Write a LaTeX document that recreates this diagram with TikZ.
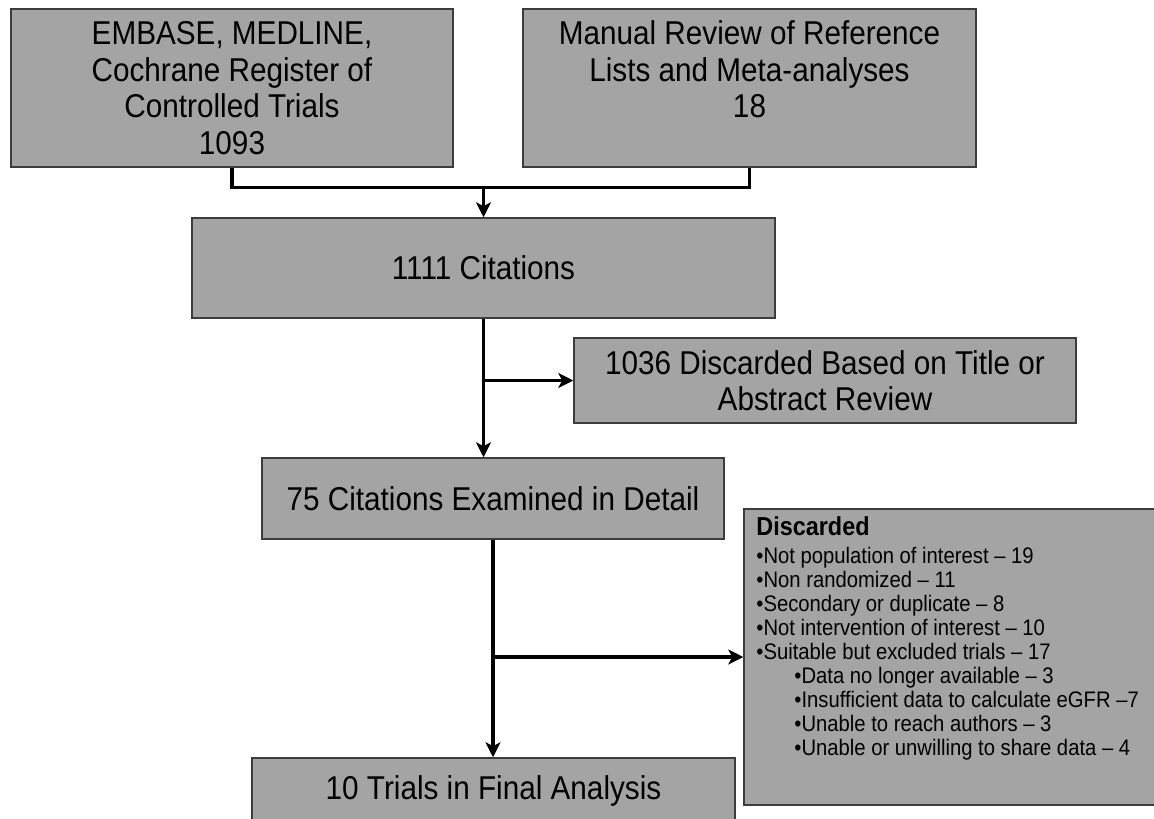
\documentclass[tikz,border=0pt]{standalone}
\usepackage{fontspec}
\setmainfont{Liberation Sans}[FakeStretch=0.9]
\usetikzlibrary{arrows.meta}
\definecolor{boxgray}{RGB}{164,164,164}
\definecolor{edgegray}{RGB}{60,60,60}

\begin{document}
\begin{tikzpicture}[x=1pt,y=-1pt,>={Stealth[length=15pt,width=15pt,inset=4pt]},
    box/.style={draw=edgegray,line width=1.5pt,fill=boxgray,inner sep=0pt,
        align=center,font=\fontsize{33}{36.5}\selectfont},
    flow/.style={line width=3.2pt}]
    \useasboundingbox (0,0) rectangle (1154,819);

    % sources
    \node[box,minimum width=442,minimum height=158] (src1) at (232,88)
        {EMBASE, MEDLINE,\\Cochrane Register of\\Controlled Trials\\1093};
    \node[box,minimum width=453,minimum height=158] (src2) at (749.5,88)
        {Manual Review of Reference\\Lists and Meta-analyses\\18\\[-10pt]\strut};

    % screening
    \node[box,minimum width=583,minimum height=100] (cit) at (483.5,268) {1111 Citations};
    \node[box,minimum width=502,minimum height=85] (disc1) at (825,380.5)
        {1036 Discarded Based on Title or\\Abstract Review};
    \node[box,minimum width=462,minimum height=81] (exam) at (493,498.5)
        {75 Citations Examined in Detail};
    \node[box,minimum width=420,minimum height=296] (disc2) at (954,657) {};
    \node[anchor=north west,align=left,inner sep=0pt,font=\fontsize{22.5}{24}\selectfont]
        (disc2txt) at ([xshift=13pt,yshift=-8pt]disc2.north west)
        {{\fontsize{26}{28}\selectfont\bfseries Discarded}\\[4pt]
        •Not population of interest – 19\\
        •Non randomized – 11\\
        •Secondary or duplicate – 8\\
        •Not intervention of interest – 10\\
        •Suitable but excluded trials – 17\\
        \hspace*{38pt}•Data no longer available – 3\\
        \hspace*{38pt}•Insufficient data to calculate eGFR –7\\
        \hspace*{38pt}•Unable to reach authors – 3\\
        \hspace*{38pt}•Unable or unwilling to share data – 4};
    \node[box,minimum width=483,minimum height=66] (final) at (493.5,791)
        {10 Trials in Final Analysis};

    % connectors
    \coordinate (join) at ([yshift=30pt]cit.north);
    \draw[flow] (src1.south) |- (join) -| (src2.south);
    \draw[flow,->] (join) -- (cit.north);
    \draw[flow,->] (cit.south) -- (cit.south |- exam.north);
    \draw[flow,->] (cit.south |- disc1.west) -- (disc1.west);
    \draw[flow,->] (exam.south) -- (exam.south |- final.north);
    \draw[flow,->] (exam.south |- disc2.west) -- (disc2.west);
\end{tikzpicture}
\end{document}
